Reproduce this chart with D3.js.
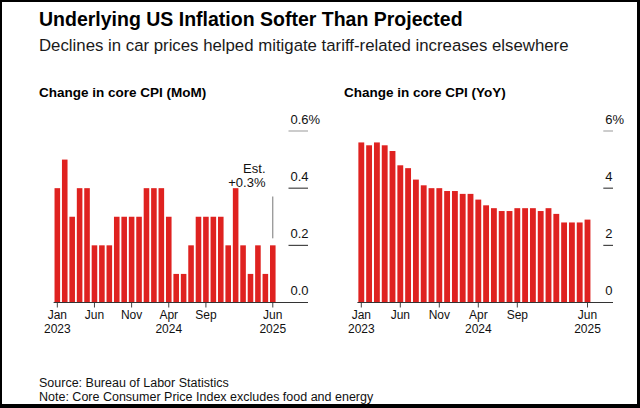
<!DOCTYPE html>
<html>
<head>
<meta charset="utf-8">
<script src="https://cdn.jsdelivr.net/npm/d3@7"></script>
<style>
  body { margin: 0; background: #000; }
  svg { display: block; font-family: "Liberation Sans", Arial, sans-serif; }
</style>
</head>
<body>
<div id="chart"></div>
<script>
const months = ['2023-01','2023-02','2023-03','2023-04','2023-05','2023-06','2023-07','2023-08','2023-09','2023-10','2023-11','2023-12',
    '2024-01','2024-02','2024-03','2024-04','2024-05','2024-06','2024-07','2024-08','2024-09','2024-10','2024-11','2024-12',
    '2025-01','2025-02','2025-03','2025-04','2025-05','2025-06'];
const momValues = [0.4,0.5,0.3,0.4,0.4,0.2,0.2,0.2,0.3,0.3,0.3,0.3,0.4,0.4,0.4,0.3,0.1,0.1,0.2,0.3,0.3,0.3,0.3,0.2,0.4,0.2,0.1,0.2,0.1,0.2];
const yoyValues = [5.6,5.5,5.6,5.5,5.3,4.8,4.7,4.3,4.1,4.0,4.0,3.9,3.9,3.8,3.8,3.6,3.4,3.3,3.2,3.2,3.3,3.3,3.3,3.2,3.3,3.1,2.8,2.8,2.8,2.9];
const xTicks = ['2023-01','2023-06','2023-11','2024-04','2024-09','2025-06'];
const xTickLabels = [['Jan','2023'],['Jun'],['Nov'],['Apr','2024'],['Sep'],['Jun','2025']];
const momTicks = [0, 0.2, 0.4, 0.6];
const momTickLabels = ['0.0','0.2','0.4','0.6%'];
const yoyTicks = [0, 2, 4, 6];
const yoyTickLabels = ['0','2','4','6%'];
const estimate = {month: '2025-06', value: 0.3, label: ['Est.', '+0.3%']};

const width = 640, height = 408;
const red = '#df2220';

const svg = d3.select('#chart').append('svg')
    .attr('width', width)
    .attr('height', height);

svg.append('rect').attr('width', width).attr('height', height).attr('fill', '#000');
svg.append('rect').attr('x', 2).attr('y', 2).attr('width', 635).attr('height', 402).attr('fill', '#fff');

svg.append('text')
    .attr('x', 39).attr('y', 26)
    .attr('font-size', 19.5).attr('font-weight', 'bold').attr('fill', '#000')
    .text('Underlying US Inflation Softer Than Projected');
svg.append('text')
    .attr('x', 39).attr('y', 51)
    .attr('font-size', 16.8).attr('fill', '#1a1a1a')
    .text('Declines in car prices helped mitigate tariff-related increases elsewhere');

svg.append('text').attr('x', 39).attr('y', 387).attr('font-size', 12.5).attr('fill', '#111')
    .text('Source: Bureau of Labor Statistics');
svg.append('text').attr('x', 39).attr('y', 401).attr('font-size', 12.5).attr('fill', '#111')
    .text('Note: Core Consumer Price Index excludes food and energy');

function panel(cfg) {
    const g = svg.append('g');
    const baseY = 302.5, topY = 131;

    g.append('text')
        .attr('x', cfg.titleX).attr('y', 97)
        .attr('font-size', 13.5).attr('font-weight', 'bold').attr('fill', '#000')
        .text(cfg.title);

    const x = d3.scaleBand()
        .domain(months)
        .range([cfg.x0, cfg.x1])
        .paddingInner(0.25)
        .paddingOuter(0.125);

    const y = d3.scaleLinear()
        .domain([0, cfg.max])
        .range([baseY, topY]);

    g.selectAll('rect.bar')
        .data(cfg.values)
        .join('rect')
        .attr('class', 'bar')
        .attr('x', (d, i) => x(months[i]))
        .attr('y', d => y(d))
        .attr('width', x.bandwidth())
        .attr('height', d => y(0) - y(d))
        .attr('fill', red);

    // y gridline stubs and labels on the right
    cfg.ticks.forEach((t, i) => {
        if (t !== 0) {
            g.append('line')
                .attr('x1', cfg.gx0).attr('x2', cfg.gx1)
                .attr('y1', y(t)).attr('y2', y(t))
                .attr('stroke', i === cfg.ticks.length - 1 ? '#999' : '#222')
                .attr('stroke-width', 1);
        }
        g.append('text')
            .attr('x', cfg.gx0 + 2).attr('y', y(t) - 7.5)
            .attr('font-size', 13).attr('fill', '#111')
            .text(cfg.tickLabels[i]);
    });

    const xAxis = d3.axisBottom(x)
        .tickValues(xTicks)
        .tickSize(5)
        .tickFormat('');

    const ax = g.append('g')
        .attr('transform', `translate(0, ${baseY})`)
        .call(xAxis);
    ax.select('.domain').remove();
    ax.selectAll('.tick line').attr('stroke', '#444');

    ax.selectAll('.tick').each(function(d) {
        const lab = xTickLabels[xTicks.indexOf(d)];
        const t = d3.select(this).append('text')
            .attr('fill', '#111')
            .attr('font-size', 12)
            .attr('text-anchor', 'middle')
            .attr('font-family', '"Liberation Sans", Arial, sans-serif');
        lab.forEach((s, k) => {
            t.append('tspan').attr('x', 0).attr('y', 16 + k * 14).text(s);
        });
    });

    g.append('line')
        .attr('x1', cfg.x0).attr('x2', cfg.gx1)
        .attr('y1', baseY).attr('y2', baseY)
        .attr('stroke', '#333').attr('stroke-width', 1);

    return {x, y, g};
}

const left = panel({
    title: 'Change in core CPI (MoM)', titleX: 39,
    values: momValues, max: 0.6,
    x0: 53.6, x1: 276.5, gx0: 288.5, gx1: 308,
    ticks: momTicks, tickLabels: momTickLabels
});

panel({
    title: 'Change in core CPI (YoY)', titleX: 344,
    values: yoyValues, max: 6,
    x0: 357.4, x1: 591.4, gx0: 603.3, gx1: 613,
    ticks: yoyTicks, tickLabels: yoyTickLabels
});

// estimate annotation
const ex = left.x(estimate.month) + left.x.bandwidth() / 2;
const labelY = 172.5;
left.g.append('line')
    .attr('x1', ex).attr('x2', ex)
    .attr('y1', labelY + 24).attr('y2', left.y(0.2) - 7)
    .attr('stroke', '#777').attr('stroke-width', 1);
estimate.label.forEach((s, k) => {
    left.g.append('text')
        .attr('x', 265.5).attr('y', labelY + k * 14)
        .attr('text-anchor', 'end')
        .attr('font-size', 13).attr('fill', '#111')
        .text(s);
});
</script>
</body>
</html>
